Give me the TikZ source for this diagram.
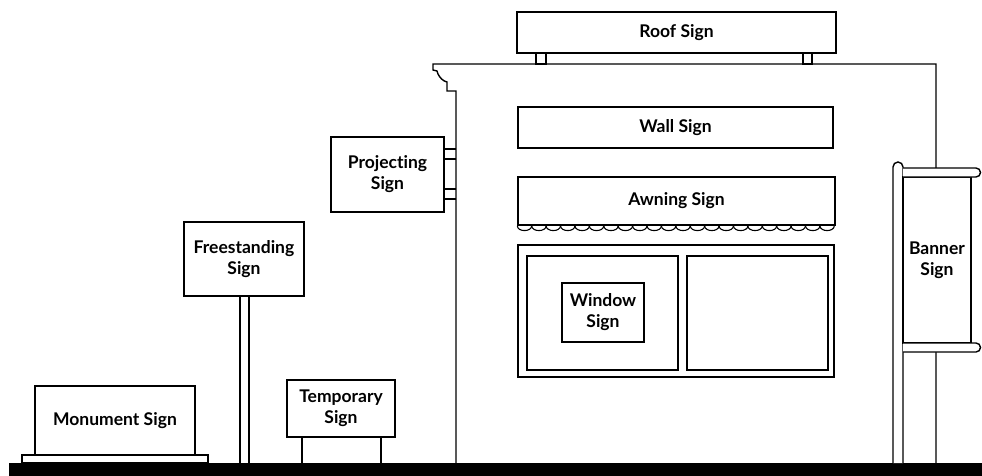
\documentclass[tikz,border=0pt]{standalone}
\usepackage{fontspec}
\setmainfont{Lato}[Ligatures=NoCommon]
\usetikzlibrary{calc}
\begin{document}
\begin{tikzpicture}[x=1pt,y=-1pt,line width=1.4pt,line join=miter,
  signbox/.style={draw,fill=white,rectangle,inner sep=0pt,align=center,
    font=\fontsize{17.5}{21}\selectfont\bfseries},
  plain/.style={draw,fill=white,rectangle,inner sep=0pt}]
\useasboundingbox (0,0) rectangle (982,476);
% ground
\fill[black] (9,463) rectangle (982,476);
% building outline
\draw (456,463) -- (456,91) -- (447,91) -- (447,82)
  .. controls (443,81) and (440,78) .. (438,74) -- (437,71) -- (433,70)
  -- (433,64) -- (936,64) -- (936,463);
% roof sign and supports
\node[signbox,minimum width=319,minimum height=41] (roof) at (676.5,32.5) {Roof Sign};
\draw (536,53) rectangle (546,64);
\draw (803,53) rectangle (812,64);
% wall sign
\node[signbox,minimum width=315,minimum height=41] (wall) at (675.5,127.5) {Wall Sign};
% awning sign
\node[signbox,minimum width=317,minimum height=48] (awning) at (676.5,201) {Awning Sign};
\foreach \i in {0,...,21}{
  \draw[line width=1.1pt] ($(awning.south west)+(\i*14.41,0)$) .. controls +(0,6.5) and +(0,6.5) .. ++(14.41,0);
}
% window
\node[plain,minimum width=316,minimum height=132] (window) at (676,311) {};
\node[plain,minimum width=151,minimum height=114] (leftpane) at (602.5,313) {};
\node[plain,minimum width=141,minimum height=114] (rightpane) at (757.5,313) {};
\node[signbox,minimum width=82,minimum height=59] (winsign) at (603,312.5) {Window\\Sign};
% projecting sign
\node[signbox,minimum width=113,minimum height=75] (proj) at (387.5,174.5) {Projecting\\Sign};
\draw (proj.east |- 0,149) -- (456,149);
\draw (proj.east |- 0,159) -- (456,159);
\draw (proj.east |- 0,189) -- (456,189);
\draw (proj.east |- 0,199) -- (456,199);
% freestanding sign
\draw (240,296) -- (240,463);
\draw (249,296) -- (249,463);
\node[signbox,minimum width=120,minimum height=74] (free) at (244,259) {Freestanding\\Sign};
% temporary sign
\draw (302,437) -- (302,463);
\draw (381,437) -- (381,463);
\node[signbox,minimum width=108,minimum height=57] (temp) at (341,408.5) {Temporary\\Sign};
% monument sign
\node[plain,minimum width=186,minimum height=8] (base) at (115,459) {};
\node[signbox,minimum width=160,minimum height=69] (monument) at (115,420.5) {Monument Sign};
% banner
\draw[fill=white] (893,463) -- (893,167) arc[start angle=180,end angle=360,radius=5] -- (903,463);
\node[signbox,minimum width=68,minimum height=166] (banner) at (937,260) {Banner\\Sign};
\draw[fill=white] (903,168) -- (976,168) arc[start angle=-90,end angle=90,radius=4.5] -- (903,177);
\draw[fill=white] (903,343) -- (976,343) arc[start angle=-90,end angle=90,radius=4.5] -- (903,352);
\end{tikzpicture}
\end{document}
